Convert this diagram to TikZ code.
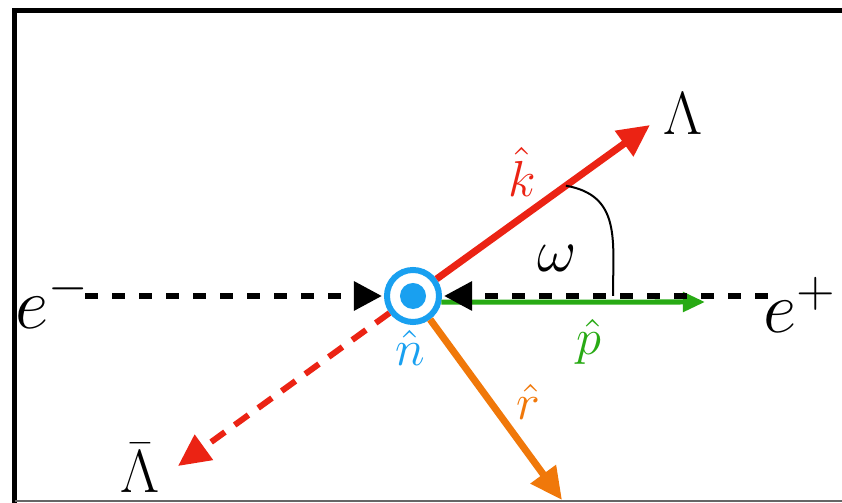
\documentclass[tikz,border=0pt]{standalone}
\usepackage{amsmath}
\usepackage{amssymb}
\usepackage{tikz}
\usetikzlibrary{arrows.meta, calc}
\usepackage{xcolor}

\definecolor{vred}{RGB}{235,35,20}
\definecolor{vgreen}{RGB}{40,170,20}
\definecolor{vorange}{RGB}{240,120,10}
\definecolor{nblue}{RGB}{25,160,240}

\begin{document}
\begin{tikzpicture}[x=0.01cm, y=0.01cm,
    beam/.style={line width=0.06cm, dash pattern=on 0.13cm off 0.14cm, -{Triangle[length=0.28cm, width=0.28cm]}, shorten >=0.02cm},
    vec/.style={line width=0.07cm, -{Triangle[length=0.32cm, width=0.30cm]}},
    bigtext/.style={font=\fontsize{17.6}{20}\selectfont},
    etext/.style={font=\fontsize{20.7}{24}\selectfont},
    vlabel/.style={font=\fontsize{15}{18}\selectfont}]

    % Rama (obcieta z prawej)
    \useasboundingbox (0,0) rectangle (842,503);
    \draw[line width=0.05cm] (842,492) -- (14.7,492) -- (14.7,0);
    \draw[line width=0.02cm, black!60] (14.7,1.5) -- (842,1.5);

    % Punkt oddzialywania i wektor n
    \node[circle, draw=nblue, line width=0.06cm, minimum size=0.52cm, inner sep=0pt] (n) at (413,207) {};
    \node[circle, fill=nblue, minimum size=0.26cm, inner sep=0pt] (dot) at (n) {};

    % Konce wektorow
    \coordinate (etail) at (85,207);
    \coordinate (ptail) at (768,207);
    \coordinate (ltip) at (650,378);
    \coordinate (lbtip) at (178,37);
    \coordinate (rtip) at (562,3);
    \coordinate (ptip) at (705,201);

    % Wektory
    \draw[vec, vgreen, line width=0.05cm, -{Triangle[length=0.22cm, width=0.19cm]}] (n.-12) -- (ptip);
    \draw[beam] (etail) -- (n);
    \draw[beam] (ptail) -- (n);
    \draw[vec, vred] (n) -- (ltip);
    \draw[vec, vred, line width=0.06cm, dash pattern=on 0.17cm off 0.12cm] (n) -- (lbtip);
    \draw[vec, vorange] (n) -- (rtip);

    % Kat omega
    \coordinate (kp) at ($(n.center)!0.645!(ltip)$);
    \coordinate (pp) at (613,207);
    \draw[line width=0.02cm] (kp) to[out=-10, in=90, looseness=1.2] (pp);

    % Opisy
    \node[bigtext] (lam) at (683,389) {$\Lambda$};
    \node[bigtext] (lambar) at (140,35) {$\bar{\Lambda}$};
    \node[etext] (eminus) at (53,203) {$e^-$};
    \node[etext] (eplus) at (800,198) {$e^+$};
    \node[bigtext] (omega) at (557,245) {$\omega$};
    \node[vlabel, text=vred] (khat) at (522,331) {$\hat{k}$};
    \node[vlabel, text=vgreen] (phat) at (589,161) {$\hat{p}$};
    \node[vlabel, text=nblue] (nhat) at (410,155) {$\hat{n}$};
    \node[vlabel, text=vorange] (rhat) at (528,101) {$\hat{r}$};

\end{tikzpicture}
\end{document}
